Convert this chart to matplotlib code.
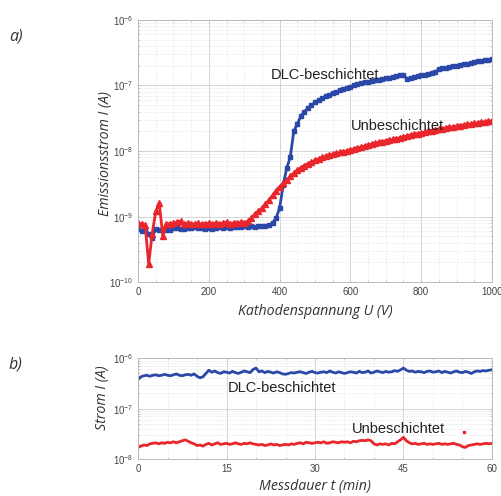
import numpy as np
import matplotlib.pyplot as plt
from matplotlib.ticker import LogLocator, NullFormatter, AutoMinorLocator

# a) emission current vs cathode voltage (10 V steps)
voltage = np.arange(0, 1001, 10)
dlc_na = [0.65, 0.6, 0.62, 0.55, 0.48, 0.65, 0.62, 0.65, 0.63, 0.62,
          0.66, 0.68, 0.65, 0.64, 0.66, 0.68, 0.7, 0.66, 0.68, 0.65,
          0.67, 0.64, 0.68, 0.7, 0.68, 0.7, 0.68, 0.7, 0.69, 0.7,
          0.72, 0.7, 0.72, 0.7, 0.71, 0.73, 0.72, 0.75, 0.8, 0.95,
          1.35, 3.0, 5.5, 8.0, 20, 26, 34, 40, 45, 50,
          55, 60, 64, 68, 72, 76, 80, 84, 88, 92,
          96, 100, 104, 108, 111, 114, 117, 120, 123, 126,
          129, 132, 135, 138, 142, 146, 125, 130, 134, 138,
          142, 146, 150, 155, 160, 178, 182, 186, 190, 195,
          200, 205, 210, 215, 220, 226, 232, 238, 243, 248, 252]
unb_na = [0.8, 0.78, 0.75, 0.19, 0.55, 1.2, 1.6, 0.5, 0.78, 0.78,
          0.8, 0.82, 0.85, 0.78, 0.8, 0.76, 0.78, 0.8, 0.76, 0.78,
          0.8, 0.77, 0.8, 0.78, 0.8, 0.82, 0.78, 0.8, 0.79, 0.82,
          0.8, 0.85, 0.95, 1.1, 1.2, 1.35, 1.55, 1.8, 2.1, 2.5,
          2.85, 3.2, 3.6, 4.1, 4.6, 5.1, 5.6, 6.0, 6.4, 6.8,
          7.2, 7.6, 8.0, 8.3, 8.6, 8.9, 9.2, 9.5, 9.8, 10.1,
          10.4, 10.8, 11.1, 11.5, 11.9, 12.3, 12.7, 13.1, 13.5, 13.9,
          14.3, 14.7, 15.1, 15.5, 16.0, 16.5, 17.0, 17.5, 18.0, 18.5,
          19.0, 19.5, 20.0, 20.5, 21.0, 21.5, 22.0, 22.5, 23.0, 23.5,
          24.0, 24.5, 25.0, 25.5, 26.0, 26.5, 27.0, 27.5, 28.0, 28.5, 29.0]

# b) current over measuring time (0.5 min steps)
minutes = np.arange(0, 60.01, 0.5)
dlc_b = [3.8, 4.3, 4.5, 4.6, 4.4, 4.6, 4.7, 4.5, 4.6, 4.8, 4.6,
         4.5, 4.7, 4.9, 4.6, 4.5, 4.7, 4.8, 4.6, 4.9, 4.4,
         4.1, 4.3, 5.0, 5.8, 5.3, 5.6, 5.2, 5.0, 5.4, 5.3,
         5.1, 5.5, 5.2, 5.0, 5.3, 5.6, 5.4, 5.2, 6.0, 6.4,
         5.4, 5.6, 5.2, 5.5, 5.3, 5.1, 5.4, 5.2, 4.9, 4.8,
         5.0, 5.2, 5.1, 5.3, 5.4, 5.2, 5.0, 5.3, 5.5, 5.2,
         5.1, 5.3, 5.4, 5.2, 5.6, 5.3, 5.1, 5.4, 5.2, 5.0,
         5.2, 5.4, 5.3, 5.1, 5.5, 5.2, 5.3, 5.6, 5.1, 5.3,
         5.6, 5.4, 5.2, 5.5, 5.3, 5.4, 5.7, 5.5, 5.9, 6.4,
         5.8, 5.5, 5.6, 5.3, 5.5, 5.4, 5.2, 5.5, 5.6, 5.3,
         5.4, 5.6, 5.2, 5.5, 5.3, 5.1, 5.4, 5.6, 5.3, 5.2,
         5.5, 5.3, 5.0, 5.4, 5.6, 5.5, 5.7, 5.6, 5.8, 5.9]  # x 1e-7 A
unb_b = [1.7, 1.8, 1.9, 1.85, 2.0, 2.05, 2.1, 2.0, 2.1, 2.05, 2.15,
         2.1, 2.2, 2.1, 2.2, 2.3, 2.4, 2.25, 2.1, 2.0, 1.85,
         1.9, 1.8, 1.95, 2.05, 1.9, 2.0, 2.1, 1.95, 2.0, 2.05,
         1.95, 2.0, 2.1, 2.0, 1.95, 2.05, 2.0, 2.1, 2.0, 1.95,
         1.9, 1.95, 1.85, 1.9, 2.0, 1.9, 1.95, 1.85, 1.9, 1.95,
         1.9, 2.0, 1.95, 2.05, 2.1, 2.0, 2.15, 2.1, 2.05, 2.1,
         2.15, 2.1, 2.2, 2.05, 2.1, 2.2, 2.15, 2.1, 2.2, 2.15,
         2.2, 2.1, 2.25, 2.2, 2.3, 2.35, 2.3, 2.4, 2.3, 2.0,
         1.9, 2.0, 1.95, 2.0, 1.9, 2.05, 2.0, 2.2, 2.4, 2.7,
         2.3, 2.1, 2.0, 2.05, 1.95, 2.0, 2.05, 1.95, 2.0, 1.95,
         2.0, 2.05, 1.95, 2.0, 1.95, 2.0, 2.05, 1.95, 1.9, 1.75,
         1.7, 1.85, 1.9, 1.95, 2.0, 1.95, 2.0, 2.05, 2.0, 2.05]  # x 1e-8 A
stray_t, stray_i = 55.3, 3.5e-8

blue = '#2b48a8'
red = '#e8262b'
lab_font = dict(family='Open Sans', style='italic', color='#333333', fontsize=10.2)
ann_font = dict(family='Liberation Sans', color='#222222', fontsize=10.5)


def style(ax):
    ax.grid(True, which='major', color='#cfcfcf', lw=0.6)
    ax.grid(True, which='minor', color='#d8d8d8', lw=0.5, ls=':')
    ax.tick_params(which='both', direction='in', top=True, right=True,
                   colors='#bbbbbb', labelcolor='#444444', labelsize=7,
                   length=2.5, width=0.5)
    ax.tick_params(which='minor', length=1.5)
    for s in ax.spines.values():
        s.set_color('#bbbbbb')
        s.set_linewidth(0.7)
    for lbl in ax.get_xticklabels() + ax.get_yticklabels():
        lbl.set_family('Liberation Sans')


fig = plt.figure(figsize=(5.02, 4.96), dpi=100)

ax1 = fig.add_axes([0.275, 0.431, 0.705, 0.529])
ax1.semilogy(voltage, np.array(dlc_na) * 1e-9, color=blue, lw=2.0,
             marker='s', ms=3.2, mec=blue, mfc=blue)
ax1.semilogy(voltage, np.array(unb_na) * 1e-9, color=red, lw=2.0,
             marker='^', ms=3.8, mec=red, mfc=red)
ax1.set_xlim(0, 1000)
ax1.set_ylim(1e-10, 1e-6)
ax1.set_xticks([0, 200, 400, 600, 800, 1000])
ax1.xaxis.set_minor_locator(AutoMinorLocator(4))
ax1.yaxis.set_major_locator(LogLocator(base=10, numticks=10))
ax1.yaxis.set_minor_locator(LogLocator(base=10, subs=np.arange(2, 10), numticks=20))
ax1.yaxis.set_minor_formatter(NullFormatter())
style(ax1)
ax1.set_xlabel('Kathodenspannung U (V)', labelpad=5, **lab_font)
ax1.set_ylabel('Emissionsstrom I (A)', **lab_font)
ax1.yaxis.set_label_coords(-0.07, 0.49)
ax1.text(528, 1.45e-7, 'DLC-beschichtet', ha='center', va='center', **ann_font)
ax1.text(732, 2.4e-8, 'Unbeschichtet', ha='center', va='center', **ann_font)

ax2 = fig.add_axes([0.275, 0.0746, 0.705, 0.203])
ax2.semilogy(minutes, np.array(dlc_b) * 1e-7, color=blue, lw=2.0)
ax2.semilogy(minutes, np.array(unb_b) * 1e-8, color=red, lw=2.0)
ax2.plot([stray_t], [stray_i], 's', color=red, ms=1.5)
ax2.set_xlim(0, 60)
ax2.set_ylim(1e-8, 1e-6)
ax2.set_xticks([0, 15, 30, 45, 60])
ax2.xaxis.set_minor_locator(AutoMinorLocator(3))
ax2.yaxis.set_major_locator(LogLocator(base=10, numticks=10))
ax2.yaxis.set_minor_locator(LogLocator(base=10, subs=np.arange(2, 10), numticks=20))
ax2.yaxis.set_minor_formatter(NullFormatter())
style(ax2)
ax2.set_xlabel('Messdauer t (min)', labelpad=4, **lab_font)
ax2.set_ylabel('Strom I (A)', **lab_font)
ax2.yaxis.set_label_coords(-0.078, 0.61)
ax2.text(24.4, 2.6e-7, 'DLC-beschichtet', ha='center', va='center', **ann_font)
ax2.text(44.1, 4.0e-8, 'Unbeschichtet', ha='center', va='center', **ann_font)

fig.text(0.018, 0.919, 'a)', family='Open Sans', style='italic', fontsize=11.5, color='#333333')
fig.text(0.018, 0.258, 'b)', family='Open Sans', style='italic', fontsize=11.5, color='#333333')

fig.savefig('out.png', dpi=100, facecolor='white')
